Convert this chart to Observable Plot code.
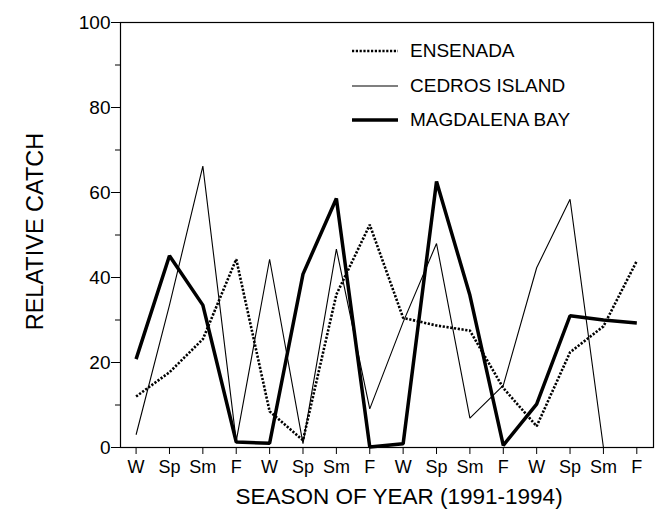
<!DOCTYPE html>
<html>
<head>
<meta charset="utf-8">
<script src="https://cdn.jsdelivr.net/npm/d3@7"></script>
<script src="https://cdn.jsdelivr.net/npm/@observablehq/plot@0.6"></script>
<style>
  html, body { margin: 0; padding: 0; background: #fff; }
  #wrap { position: relative; width: 657px; height: 512px; font-family: "Liberation Sans", Arial, sans-serif; }
  #legend { position: absolute; left: 352px; top: 34px; font-size: 19px; color: #000; }
  #legend .row { display: flex; align-items: center; height: 34.5px; }
  #legend svg { margin-right: 12px; }
</style>
</head>
<body>
<div id="wrap"><div id="legend"></div></div>
<script>
const seasons = ["W","Sp","Sm","F","W","Sp","Sm","F","W","Sp","Sm","F","W","Sp","Sm","F"];
const ensenada  = [12, 17.7, 25.5, 44.3, 8.5, 1.7, 36, 52.4, 30.5, 28.7, 27.5, 14, 5, 22.4, 28.5, 43.9];
const cedros    = [3, 33.5, 66.2, 1.5, 44.3, 0.9, 46.7, 9.1, 29.5, 48, 6.9, 14.6, 42.3, 58.4, 0, null];
const magdalena = [20.8, 45.1, 33.5, 1.3, 1.0, 40.8, 58.6, 0.1, 0.9, 62.6, 35.8, 0.5, 10.2, 31, 30, 29.3];
const seriesNames = ["ENSENADA", "CEDROS ISLAND", "MAGDALENA BAY"];
const yMajor = [0, 20, 40, 60, 80, 100];
const yMinor = [10, 30, 50, 70, 90];

const styles = {
  "ENSENADA":      {strokeWidth: 2.6, strokeDasharray: "2.2,1.6"},
  "CEDROS ISLAND": {strokeWidth: 1.1, strokeDasharray: null},
  "MAGDALENA BAY": {strokeWidth: 3.5, strokeDasharray: null}
};
const values = [ensenada, cedros, magdalena];
const idx = seasons.map((_, i) => i);

const lineMarks = seriesNames.map((name, k) =>
  Plot.line(idx, {
    x: i => i,
    y: i => values[k][i],
    stroke: "#000",
    strokeWidth: styles[name].strokeWidth,
    strokeDasharray: styles[name].strokeDasharray,
    strokeLinejoin: "miter",
    strokeLinecap: "butt"
  })
);

const chart = Plot.plot({
  width: 657,
  height: 512,
  marginLeft: 120,
  marginRight: 4,
  marginTop: 22,
  marginBottom: 65,
  style: {fontFamily: "Liberation Sans, Arial, sans-serif", background: "#fff", color: "#000"},
  x: {domain: [-0.467, 15.5], axis: null},
  y: {domain: [0, 100], axis: null},
  marks: [
    Plot.axisY({ticks: yMajor, tickSize: 9, tickPadding: 1, fontSize: 19, label: null, stroke: "#000"}),
    Plot.axisY({ticks: yMinor, tickSize: 5, tickFormat: () => "", label: null, stroke: "#000"}),
    Plot.axisX({ticks: idx, tickSize: 7, tickPadding: 6, fontSize: 18, tickFormat: i => seasons[i], label: null, stroke: "#000"}),
    ...lineMarks,
    Plot.frame({stroke: "#000", strokeWidth: 1.2}),
    Plot.text(["RELATIVE CATCH"], {frameAnchor: "left", textAnchor: "middle", dx: -85, dy: -3.5, rotate: -90, fontSize: 23.5, fill: "#000"}),
    Plot.text(["SEASON OF YEAR (1991-1994)"], {frameAnchor: "bottom", dx: 12, dy: 56, fontSize: 22.5, fill: "#000"})
  ]
});
document.getElementById("wrap").prepend(chart);
chart.style.position = "absolute";
chart.style.left = "0";
chart.style.top = "0";

const legend = d3.select("#legend");
seriesNames.forEach(name => {
  const row = legend.append("div").attr("class", "row");
  const svg = row.append("svg").attr("width", 46).attr("height", 10);
  svg.append("line").attr("x1", 0).attr("x2", 46).attr("y1", 5).attr("y2", 5)
    .attr("stroke", "#000")
    .attr("stroke-width", styles[name].strokeWidth)
    .attr("stroke-dasharray", styles[name].strokeDasharray);
  row.append("span").text(name);
});
</script>
</body>
</html>
